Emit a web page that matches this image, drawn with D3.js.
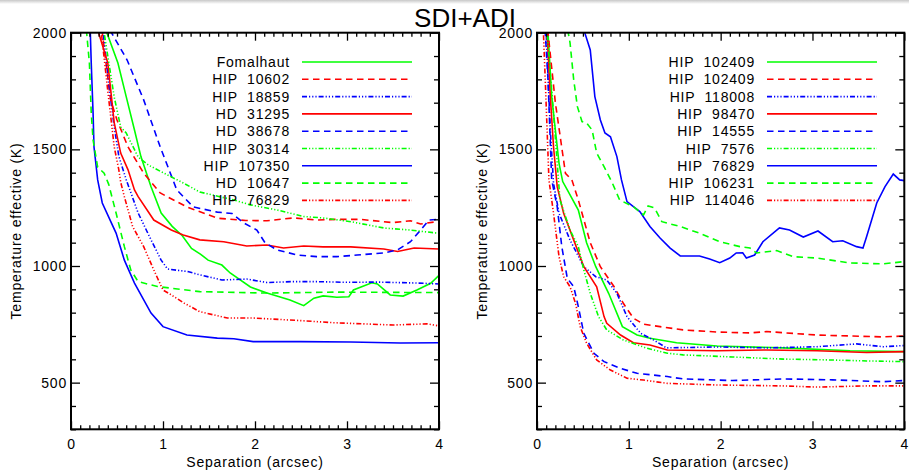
<!DOCTYPE html>
<html><head><meta charset="utf-8">
<script src="https://cdn.jsdelivr.net/npm/d3@7"></script>
<style>
body{margin:0;background:#fff;}
svg text{font-family:"Liberation Sans",Arial,Helvetica,sans-serif;fill:#000;}
</style></head><body>
<svg id="chart" width="909" height="470"></svg>
<script>
// ---------------- DATA ----------------
const title = "SDI+ADI";
const xLabel = "Separation (arcsec)";
const yLabel = "Temperature effective (K)";
const xTicks = [0, 1, 2, 3, 4];
const yTicks = [500, 1000, 1500, 2000];
const xDomain = [0, 4];
const yDomain = [300, 2000];

// Left panel: [separation (arcsec), T_eff (K)]
const leftNames = ["Fomalhaut", "HIP  10602", "HIP  18859", "HD  31295", "HD  38678", "HIP  30314", "HIP  107350", "HD  10647", "HIP  76829"];
const L_Fomalhaut = [[0.37,2060],[0.39,2000],[0.51,1870],[0.60,1726],[0.69,1583],[0.76,1469],[0.87,1340],[0.98,1227],[1.10,1170],[1.21,1130],[1.31,1075],[1.41,1050],[1.49,1025],[1.64,1004],[1.73,970],[1.95,910],[2.13,884],[2.38,854],[2.53,830],[2.64,862],[2.74,872],[2.89,866],[3.02,868],[3.07,897],[3.27,928],[3.33,923],[3.47,876],[3.61,871],[3.76,897],[3.91,926],[4.0,960]];
const L_HIP10602 = [[0.32,2060],[0.34,2000],[0.43,1712],[0.50,1626],[0.62,1510],[0.79,1398],[0.97,1313],[1.26,1253],[1.59,1205],[1.90,1195],[2.13,1194],[2.42,1206],[2.67,1197],[2.90,1200],[3.14,1200],[3.50,1186],[3.69,1194],[3.80,1180],[3.98,1190],[4.0,1190]];
const L_HIP18859 = [[0.33,2060],[0.35,2000],[0.42,1750],[0.47,1596],[0.52,1470],[0.60,1370],[0.73,1227],[0.87,1112],[0.98,1025],[1.05,987],[1.27,976],[1.40,962],[1.64,940],[1.91,944],[2.13,929],[2.40,933],[2.67,933],[3.00,930],[3.33,931],[3.76,927],[4.0,923]];
const L_HD31295 = [[0.28,2060],[0.30,2000],[0.40,1870],[0.44,1724],[0.47,1613],[0.54,1484],[0.62,1412],[0.69,1326],[0.73,1297],[0.90,1197],[1.09,1154],[1.22,1133],[1.40,1112],[1.66,1104],[1.91,1086],[2.13,1090],[2.31,1077],[2.53,1086],[2.74,1082],[3.04,1082],[3.40,1073],[3.55,1062],[3.73,1077],[4.0,1073]];
const L_HD38678 = [[0.42,2060],[0.44,2000],[0.61,1883],[0.79,1712],[0.97,1510],[1.15,1326],[1.33,1253],[1.59,1231],[1.75,1225],[1.88,1184],[2.02,1154],[2.11,1099],[2.24,1069],[2.46,1047],[2.67,1040],[2.89,1040],[3.11,1047],[3.40,1056],[3.55,1069],[3.69,1104],[3.80,1154],[3.89,1197],[4.0,1200]];
const L_HIP30314 = [[0.34,2060],[0.36,2000],[0.47,1724],[0.54,1596],[0.60,1570],[0.73,1467],[0.84,1433],[1.01,1398],[1.22,1356],[1.40,1317],[1.77,1283],[1.95,1262],[2.24,1240],[2.53,1212],[2.74,1206],[3.04,1190],[3.40,1163],[3.69,1154],[3.98,1141],[4.0,1140]];
const L_HIP107350 = [[0.20,2060],[0.21,2000],[0.22,1870],[0.24,1656],[0.25,1510],[0.29,1369],[0.34,1270],[0.44,1184],[0.49,1141],[0.58,1025],[0.69,927],[0.87,798],[1.00,740],[1.26,704],[1.59,691],[1.77,688],[1.98,676],[2.49,676],[3.04,674],[3.58,670],[4.0,671]];
const L_HD10647 = [[0.16,2060],[0.17,2000],[0.20,1870],[0.22,1656],[0.24,1540],[0.29,1424],[0.36,1398],[0.41,1350],[0.49,1227],[0.58,1083],[0.65,983],[0.73,933],[0.94,912],[1.40,890],[2.13,884],[2.85,888],[4.0,886]];
const L_HIP76829 = [[0.31,2060],[0.33,2000],[0.40,1750],[0.47,1510],[0.52,1412],[0.54,1360],[0.58,1297],[0.67,1169],[0.79,1083],[0.90,983],[1.00,897],[1.09,876],[1.23,841],[1.40,804],[1.70,777],[1.98,777],[2.49,766],[2.85,757],[3.50,747],[3.87,752],[4.0,743]];

// Right panel
const rightNames = ["HIP  102409", "HIP  102409", "HIP  118008", "HIP  98470", "HIP  14555", "HIP  7576", "HIP  76829", "HIP  106231", "HIP  114046"];
const R_HIP102409a = [[0.11,2060],[0.12,2000],[0.16,1726],[0.20,1583],[0.24,1440],[0.28,1362],[0.33,1326],[0.45,1240],[0.54,1100],[0.64,997],[0.78,883],[0.93,740],[1.09,704],[1.23,690],[1.52,671],[1.96,657],[2.68,649],[3.41,637],[4.0,633]];
const R_HIP102409b = [[0.11,2060],[0.12,2000],[0.20,1700],[0.31,1397],[0.38,1369],[0.45,1283],[0.58,1100],[0.69,997],[0.84,911],[0.94,840],[1.05,776],[1.16,751],[1.34,740],[1.59,726],[1.96,717],[2.32,713],[2.50,719],[3.05,704],[3.77,696],[4.0,700]];
const R_HIP118008 = [[0.09,2060],[0.10,2000],[0.145,1583],[0.18,1354],[0.24,1226],[0.36,1111],[0.51,997],[0.64,954],[0.76,940],[0.87,883],[0.98,783],[1.13,711],[1.27,683],[1.41,649],[1.96,653],[2.50,649],[3.05,654],[3.48,666],[3.77,654],[4.0,659]];
const R_HIP98470 = [[0.10,2060],[0.11,2000],[0.145,1726],[0.18,1511],[0.22,1340],[0.29,1226],[0.40,1111],[0.51,997],[0.65,911],[0.73,783],[0.76,754],[0.91,704],[1.05,671],[1.23,661],[1.42,640],[1.96,637],[2.50,640],[3.05,637],[3.59,629],[4.0,633]];
const R_HIP14555 = [[0.08,2060],[0.09,2000],[0.12,1797],[0.16,1369],[0.22,1254],[0.27,1083],[0.33,947],[0.40,911],[0.45,826],[0.51,711],[0.62,626],[0.73,590],[0.91,561],[1.09,540],[1.42,526],[1.59,516],[2.13,509],[2.68,516],[3.22,512],[3.77,504],[4.0,509]];
const R_HIP7576 = [[0.10,2060],[0.11,2000],[0.18,1655],[0.25,1283],[0.36,1154],[0.45,1083],[0.51,983],[0.58,883],[0.67,783],[0.76,726],[0.94,683],[1.20,647],[1.42,626],[1.59,619],[2.13,610],[2.68,601],[3.22,597],[3.59,593],[4.0,590]];
const R_HIP76829 = [[0.51,2060],[0.52,2000],[0.58,1926],[0.63,1726],[0.69,1626],[0.74,1570],[0.80,1554],[0.87,1469],[0.92,1369],[0.98,1276],[1.05,1254],[1.12,1233],[1.23,1169],[1.34,1120],[1.45,1077],[1.56,1043],[1.77,1043],[1.88,1030],[1.99,1014],[2.10,1034],[2.17,1056],[2.24,1057],[2.28,1034],[2.37,1047],[2.46,1104],[2.64,1163],[2.75,1154],[2.90,1124],[3.06,1150],[3.22,1104],[3.33,1108],[3.48,1083],[3.55,1077],[3.59,1126],[3.70,1270],[3.79,1340],[3.88,1394],[3.95,1369],[4.0,1366]];
const R_HIP106231 = [[0.33,2060],[0.34,2000],[0.36,1956],[0.40,1797],[0.44,1683],[0.49,1619],[0.54,1613],[0.60,1583],[0.65,1484],[0.73,1426],[0.82,1356],[0.90,1283],[1.05,1254],[1.16,1219],[1.21,1257],[1.28,1249],[1.36,1190],[1.56,1169],[1.77,1141],[1.99,1104],[2.21,1083],[2.32,1077],[2.39,1056],[2.61,1066],[2.79,1040],[3.05,1034],[3.41,1013],[3.77,1009],[4.0,1019]];
const R_HIP114046 = [[0.06,2060],[0.07,2000],[0.09,1797],[0.13,1369],[0.18,1226],[0.24,1040],[0.29,954],[0.36,911],[0.42,840],[0.47,740],[0.54,669],[0.65,597],[0.80,554],[0.98,519],[1.16,511],[1.42,497],[1.96,490],[2.68,486],[3.05,481],[3.59,486],[4.0,486]];

const leftSeries = [L_Fomalhaut, L_HIP10602, L_HIP18859, L_HD31295, L_HD38678, L_HIP30314, L_HIP107350, L_HD10647, L_HIP76829];
const rightSeries = [R_HIP102409a, R_HIP102409b, R_HIP118008, R_HIP98470, R_HIP14555, R_HIP7576, R_HIP76829, R_HIP106231, R_HIP114046];

// ---------------- STYLES ----------------
const GREEN = "#00ff00", RED = "#ff0000", BLUE = "#0000ff";
const DASH = "6.5,4.5", DDD = "5,2,1.2,2,1.2,2,1.2,2", SOLID = null;
const styleColors = [GREEN, RED, BLUE, RED, BLUE, GREEN, BLUE, GREEN, RED];
const styleDash = [SOLID, DASH, DDD, SOLID, DASH, DDD, SOLID, DASH, DDD];

const svg = d3.select("#chart");
const defs = svg.append("defs");
const grad = defs.append("linearGradient").attr("id","topg").attr("x1",0).attr("y1",0).attr("x2",0).attr("y2",1);
grad.append("stop").attr("offset","0").attr("stop-color","#c8c8c8");
grad.append("stop").attr("offset","1").attr("stop-color","#ffffff");
svg.append("rect").attr("x",0).attr("y",0).attr("width",909).attr("height",4).attr("fill","url(#topg)");

svg.append("text").attr("x", 465).attr("y", 27).attr("text-anchor","middle")
  .style("font-size","26px").text(title);

const plotTop = 32.7, plotBottom = 429.3;

function panel(id, x0, x1, names, series, legendRight, yLabX) {
  const x = d3.scaleLinear().domain(xDomain).range([x0, x1]);
  const y = d3.scaleLinear().domain(yDomain).range([plotBottom, plotTop]);
  const g = svg.append("g");

  defs.append("clipPath").attr("id","clip"+id).append("rect")
    .attr("x",x0).attr("y",plotTop).attr("width",x1-x0).attr("height",plotBottom-plotTop);

  const line = d3.line().x(d=>x(d[0])).y(d=>y(d[1]));
  const cg = g.append("g").attr("clip-path","url(#clip"+id+")");
  series.forEach((s,i)=>{
    cg.append("path").attr("d", line(s)).attr("fill","none")
      .attr("stroke", styleColors[i]).attr("stroke-width",1.6)
      .attr("stroke-dasharray", styleDash[i]);
  });

  const minorX = d3.range(0, 41).map(i=>i/10).filter(v=>Math.abs(v-Math.round(v))>1e-6);
  const minorY = d3.range(300, 2001, 100).filter(v=>v%500!==0);

  g.append("g").attr("transform",`translate(0,${plotBottom})`)
    .call(d3.axisBottom(x).tickValues(minorX).tickSizeInner(-4).tickSizeOuter(0).tickFormat(""));
  g.append("g").attr("transform",`translate(0,${plotBottom})`)
    .call(d3.axisBottom(x).tickValues(xTicks).tickSizeInner(-8).tickSizeOuter(0).tickPadding(10).tickFormat(d3.format("d")));
  g.append("g").attr("transform",`translate(0,${plotTop})`)
    .call(d3.axisTop(x).tickValues(minorX).tickSizeInner(-4).tickSizeOuter(0).tickFormat(""));
  g.append("g").attr("transform",`translate(0,${plotTop})`)
    .call(d3.axisTop(x).tickValues(xTicks).tickSizeInner(-8).tickSizeOuter(0).tickFormat(""));
  g.append("g").attr("transform",`translate(${x0},0)`)
    .call(d3.axisLeft(y).tickValues(minorY).tickSizeInner(-5).tickSizeOuter(0).tickFormat(""));
  g.append("g").attr("transform",`translate(${x0},0)`)
    .call(d3.axisLeft(y).tickValues(yTicks).tickSizeInner(-9).tickSizeOuter(0).tickPadding(4).tickFormat(d3.format("d")));
  g.append("g").attr("transform",`translate(${x1},0)`)
    .call(d3.axisRight(y).tickValues(minorY).tickSizeInner(-5).tickSizeOuter(0).tickFormat(""));
  g.append("g").attr("transform",`translate(${x1},0)`)
    .call(d3.axisRight(y).tickValues(yTicks).tickSizeInner(-9).tickSizeOuter(0).tickFormat(""));

  g.selectAll(".domain").remove();
  g.selectAll(".tick line").attr("stroke","#000").attr("stroke-width",1.3);
  g.selectAll(".tick text").style("font-size","14px").style("letter-spacing","0.8px")
    .style("font-family","'Liberation Sans',Arial,sans-serif").attr("fill","#000");

  g.append("rect").attr("x",x0).attr("y",plotTop).attr("width",x1-x0).attr("height",plotBottom-plotTop)
    .attr("fill","none").attr("stroke","#000").attr("stroke-width",2);

  g.append("text").attr("x",(x0+x1)/2).attr("y",467).attr("text-anchor","middle")
    .style("font-size","14px").style("letter-spacing","0.8px").text(xLabel);
  g.append("text").attr("transform",`translate(${yLabX},${(plotTop+plotBottom)/2}) rotate(-90)`)
    .attr("text-anchor","middle").style("font-size","14px").style("letter-spacing","0.8px").text(yLabel);

  const lg = g.append("g");
  names.forEach((n,i)=>{
    const cy = 62 + i*17.3;
    lg.append("text").attr("x",legendRight).attr("y",cy+5).attr("text-anchor","end")
      .style("font-size","14px").style("letter-spacing","0.8px").style("white-space","pre").text(n);
    lg.append("line").attr("x1",legendRight+12).attr("x2",legendRight+122)
      .attr("y1",cy).attr("y2",cy).attr("stroke",styleColors[i]).attr("stroke-width",1.6)
      .attr("stroke-dasharray",styleDash[i]);
  });
}

panel("L", 71, 439, leftNames, leftSeries, 290, 21);
panel("R", 537, 904.3, rightNames, rightSeries, 755, 487);
</script>
</body></html>
